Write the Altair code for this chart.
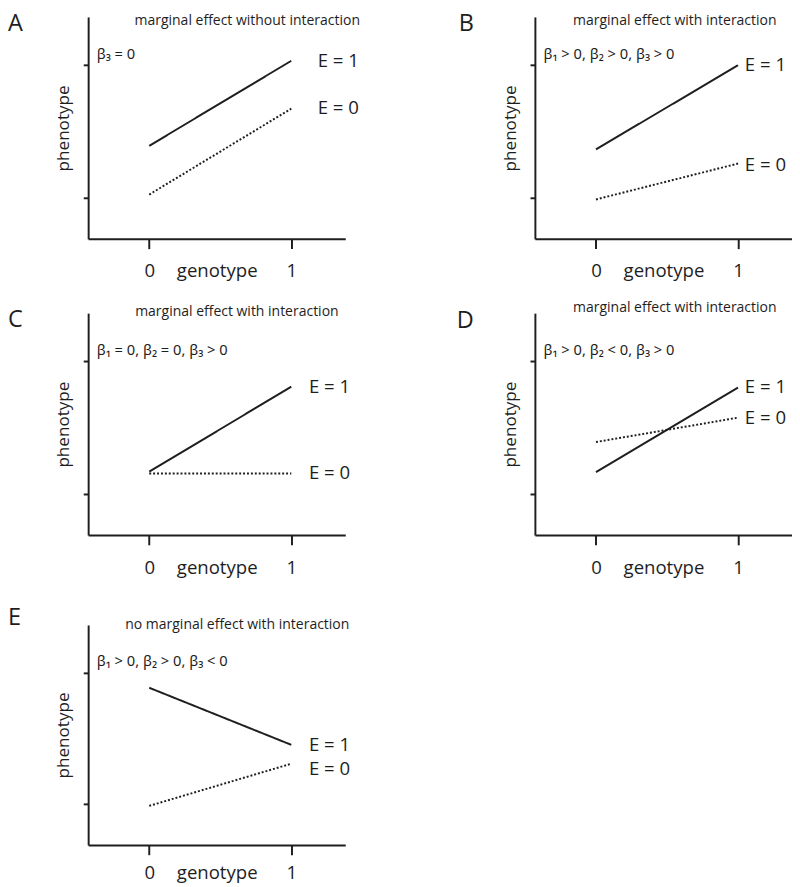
import altair as alt
import pandas as pd

# ---- data ----
genotype = [0, 1]
groups = ["E = 1", "E = 0"]

letters = ["A", "B", "C", "D", "E"]
headers = [
    "marginal effect without interaction",
    "marginal effect with interaction",
    "marginal effect with interaction",
    "marginal effect with interaction",
    "no marginal effect with interaction",
]
betas = [
    "β₃ = 0",
    "β₁ > 0, β₂ > 0, β₃ > 0",
    "β₁ = 0, β₂ = 0, β₃ > 0",
    "β₁ > 0, β₂ <  0, β₃ > 0",
    "β₁ > 0, β₂ > 0, β₃ < 0",
]

A_E1 = [2.17, 4.09]
A_E0 = [1.07, 3.01]
B_E1 = [2.09, 3.99]
B_E0 = [0.96, 1.77]
C_E1 = [1.50, 3.42]
C_E0 = [1.46, 1.46]
D_E1 = [1.49, 3.40]
D_E0 = [2.17, 2.72]
E_E1 = [3.65, 2.35]
E_E0 = [0.96, 1.92]

x_ticks = [0, 1]
y_ticks = [1, 4]

# ---- styling ----
XDOM = [-0.43, 1.38]
YDOM = [0.07, 5.08]
W = 263
FONT = "Open Sans"
INK = "#1e1e1e"


def panel(letter, header, beta, e1, e0, header_x, header_dy, label_dx, label0_dy,
          letter_x, letter_y, height=227, label_pad=14):
    df = pd.DataFrame({
        "genotype": genotype + genotype,
        "phenotype": e1 + e0,
        "E": [groups[0]] * 2 + [groups[1]] * 2,
    })
    x = alt.X("genotype:Q", scale=alt.Scale(domain=XDOM, nice=False, zero=False),
              axis=alt.Axis(values=x_ticks, format="d", tickSize=10, labelPadding=label_pad,
                            labelFontSize=19, labelFont=FONT, labelColor=INK,
                            titleFontSize=19, titleFont=FONT, titleFontWeight="normal",
                            titleColor=INK, titleBaseline="top", titleY=10 + label_pad,
                            domainWidth=2, tickWidth=2, domainColor=INK, tickColor=INK,
                            grid=False),
              title="genotype")
    y = alt.Y("phenotype:Q", scale=alt.Scale(domain=YDOM, nice=False, zero=False),
              axis=alt.Axis(values=y_ticks, labels=False, tickSize=5, titlePadding=10,
                            titleFontSize=17.5, titleFont=FONT, titleFontWeight="normal",
                            titleColor=INK, domainWidth=2, tickWidth=2,
                            domainColor=INK, tickColor=INK, grid=False),
              title="phenotype")
    lines = alt.Chart(df).mark_line(color=INK, strokeWidth=2).encode(
        x=x, y=y,
        strokeDash=alt.StrokeDash("E:N", scale=alt.Scale(domain=groups, range=[[1, 0], [2, 2]]),
                                  legend=None),
        detail="E:N",
    )
    end1 = alt.Chart(df).transform_filter(
        (alt.datum.genotype == 1) & (alt.datum.E == groups[0])
    ).mark_text(align="left", baseline="middle", fontSize=19, font=FONT, color=INK,
                dx=label_dx).encode(x="genotype:Q", y="phenotype:Q", text="E:N")
    end0 = alt.Chart(df).transform_filter(
        (alt.datum.genotype == 1) & (alt.datum.E == groups[1])
    ).mark_text(align="left", baseline="middle", fontSize=19, font=FONT, color=INK,
                dx=label_dx, dy=label0_dy).encode(x="genotype:Q", y="phenotype:Q", text="E:N")
    one = pd.DataFrame({"k": [0]})
    head = alt.Chart(one).mark_text(align="center", baseline="middle", fontSize=14.3,
                                    font=FONT, color=INK, dy=header_dy).encode(
        x=alt.X(datum=header_x), y=alt.Y(datum=YDOM[1]), text=alt.value(header))
    bet = alt.Chart(one).mark_text(align="left", baseline="middle", fontSize=15,
                                   font="Noto Sans", color=INK).encode(
        x=alt.X(datum=-0.37), y=alt.Y(datum=4.25), text=alt.value(beta))
    let = alt.Chart(one).mark_text(align="left", baseline="middle", fontSize=24,
                                   font=FONT, color=INK).encode(
        x=alt.value(letter_x), y=alt.value(letter_y), text=alt.value(letter))
    return alt.layer(lines, end1, end0, head, bet, let).properties(width=W, height=height)


pA = panel(letters[0], headers[0], betas[0], A_E1, A_E0, 0.69, 4, 27, 0, -82, 7)
pB = panel(letters[1], headers[1], betas[1], B_E1, B_E0, 0.555, 4, 7, 2, -78, 7)
pC = panel(letters[2], headers[2], betas[2], C_E1, C_E0, 0.617, -1, 18, 0, -82, 7)
pD = panel(letters[3], headers[3], betas[3], D_E1, D_E0, 0.555, -5, 7, 0, -80, 8)
pE = panel(letters[4], headers[4], betas[4], E_E1, E_E0, 0.62, 0, 18, 6, -82, -7,
           height=225, label_pad=9)

row1 = alt.hconcat(pA, pB, spacing=100)
row2 = alt.hconcat(pC, pD, spacing=109)
top = alt.vconcat(row1, row2, spacing=21)
chart = alt.vconcat(top, pE, spacing=30).properties(
    padding={"top": -6, "left": 0, "right": 0, "bottom": 0}
).configure(background="white").configure_view(strokeWidth=0, stroke="transparent")

chart.save("out.html", embed_options={"renderer": "svg", "actions": False})
